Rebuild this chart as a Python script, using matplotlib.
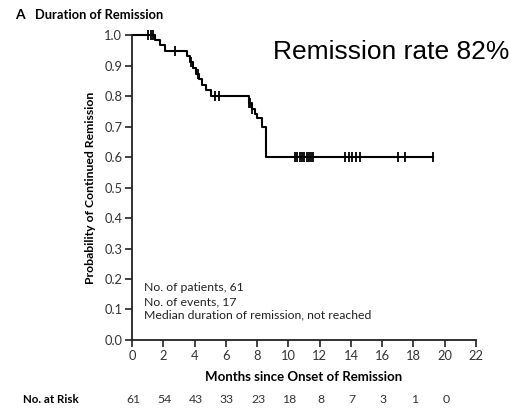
import matplotlib.pyplot as plt
import numpy as np

# Kaplan-Meier: duración de la remisión
step_times = [0, 1.47, 1.79, 2.11, 3.5, 3.72, 3.92, 4.1, 4.3, 4.5, 4.7, 5.05,
              7.45, 7.65, 7.85, 8.0, 8.3, 8.6]
step_surv = [1.0, 0.983, 0.966, 0.948, 0.930, 0.911, 0.893, 0.874, 0.856,
             0.837, 0.819, 0.800, 0.776, 0.757, 0.742, 0.728, 0.700, 0.600]
end_time = 19.23

censor_times = [1.05, 1.2, 1.35, 2.75, 3.8, 4.2, 5.3, 5.56, 7.5, 7.55, 7.7,
                10.42, 10.57, 10.72, 10.87, 11.02, 11.17, 11.3, 11.42, 11.55,
                13.62, 13.85, 14.1, 14.35, 14.58, 17.0, 17.45, 19.23]

risk_months = [0, 2, 4, 6, 8, 10, 12, 14, 16, 18, 20]
at_risk = [61, 54, 43, 33, 23, 18, 8, 7, 3, 1, 0]

plt.rcParams['font.family'] = ['Lato', 'DejaVu Sans']

fig = plt.figure(figsize=(5.22, 4.08), dpi=100)
ax = fig.add_axes([0.2529, 0.1667, 0.659, 0.7473])

# Curva escalonada
xs = list(step_times) + [end_time]
ys = list(step_surv) + [step_surv[-1]]
ax.step(xs, ys, where='post', color='black', lw=1.5, clip_on=False)

# Marcas de censura
cs = [step_surv[np.searchsorted(step_times, t, side='right') - 1] for t in censor_times]
ax.plot(censor_times, cs, linestyle='none', marker='|', markersize=7,
        markeredgewidth=1.3, color='black', clip_on=False)

ax.set_xlim(0, 22)
ax.set_ylim(0, 1.0)
ax.set_xticks(range(0, 23, 2))
ax.set_yticks(np.arange(0, 1.01, 0.1))
ax.set_yticklabels([f"{v:.1f}" for v in np.arange(0, 1.01, 0.1)])
for s in ['top', 'right']:
    ax.spines[s].set_visible(False)
for s in ['left', 'bottom']:
    ax.spines[s].set_linewidth(1.3)
    ax.spines[s].set_color('#222222')
ax.tick_params(direction='out', length=5, width=1.2, labelsize=9.3,
               labelcolor='#333333', color='#222222', pad=2)

ax.set_ylabel("Probability of Continued Remission", fontsize=8.8,
              fontweight='bold', labelpad=6)
ax.set_xlabel("Months since Onset of Remission", fontsize=9.5,
              fontweight='bold', labelpad=7)

ax.text(0.035, 0.19, "No. of patients, 61\nNo. of events, 17\n"
        "Median duration of remission, not reached",
        transform=ax.transAxes, fontsize=8.8, color='#222222',
        va='top', linespacing=1.32)

ax.text(0.41, 0.944, "Remission rate 82%", transform=ax.transAxes,
        fontsize=19, family='Liberation Sans', color='black', va='center')

fig.text(0.029, 0.963, "A", fontsize=10, fontweight='bold', va='center')
fig.text(0.067, 0.963, "Duration of Remission", fontsize=9.3,
         fontweight='bold', va='center')

# Número en riesgo
fig.text(0.044, 0.02, "No. at Risk", fontsize=8.3, fontweight='bold',
         va='center')
for m, n in zip(risk_months, at_risk):
    xf = fig.transFigure.inverted().transform(ax.transData.transform((m, 0)))[0]
    fig.text(xf + 0.002, 0.02, str(n), fontsize=8.8, color='#333333',
             ha='center', va='center')

fig.savefig("out.png", dpi=100)
